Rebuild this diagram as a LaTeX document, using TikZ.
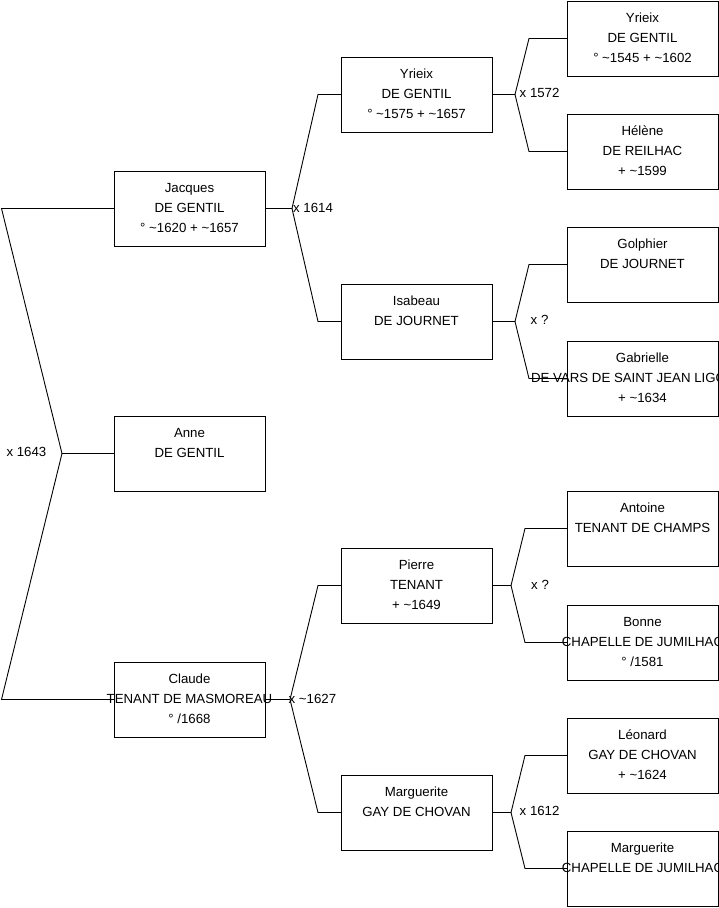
\documentclass[tikz,border=0pt]{standalone}
\usepackage{fontspec}
\setmainfont{Liberation Sans}
\tikzset{
  famboxstyle/.style={draw=black, line width=0.9pt, fill=white, minimum width=151pt, minimum height=75pt, inner sep=0pt, outer sep=0pt},
  famtext/.style={anchor=north, inner sep=0pt, align=center, font=\fontsize{13.25}{20}\selectfont},
  link/.style={draw=black, line width=0.9pt},
  marr/.style={anchor=west, inner sep=0pt, font=\fontsize{13.25}{16}\selectfont},
}
\newcommand\famnode[4]{%
  \node[famboxstyle] (#1) at (#2,#3) {};
  \node[famtext] (#1-t) at (#1.north) {\rule{0pt}{21pt}#4};}
\begin{document}
\begin{tikzpicture}[x=1pt,y=-1pt]
\useasboundingbox (0,0) rectangle (719,908);
\clip (0,0) rectangle (719,908);
\fill[white] (0,0) rectangle (719,908);
% fork and bend coordinates
\coordinate (f0) at (62,453.5);
\coordinate (b0a) at (1.5,208.5);
\coordinate (b0b) at (1.5,699.5);
\coordinate (fJ) at (292,208.5);
\coordinate (bJa) at (318,94.5);
\coordinate (bJb) at (318,321.5);
\coordinate (fC) at (290,699.5);
\coordinate (bCa) at (318,585.5);
\coordinate (bCb) at (318,812.5);
\coordinate (fY) at (515,94.5);
\coordinate (bYa) at (529,38.5);
\coordinate (bYb) at (529,151.5);
\coordinate (fI) at (515,321.5);
\coordinate (bIa) at (529,264.5);
\coordinate (bIb) at (529,378.5);
\coordinate (fP) at (511,585.5);
\coordinate (bPa) at (525,528.5);
\coordinate (bPb) at (525,642.5);
\coordinate (fM) at (511,812.5);
\coordinate (bMa) at (525,755.5);
\coordinate (bMb) at (525,868.5);
% boxes
\famnode{jacques}{189.5}{208.5}{Jacques\\DE GENTIL\\° \textasciitilde1620 + \textasciitilde1657}
\famnode{anne}{189.5}{453.5}{Anne\\DE GENTIL}
\famnode{claude}{189.5}{699.5}{Claude\\TENANT DE MASMOREAU\\° /1668}
\famnode{yrieixB}{416.5}{94.5}{Yrieix\\DE GENTIL\\° \textasciitilde1575 + \textasciitilde1657}
\famnode{isabeau}{416.5}{321.5}{Isabeau\\DE JOURNET}
\famnode{pierre}{416.5}{585.5}{Pierre\\TENANT\\+ \textasciitilde1649}
\famnode{margueriteG}{416.5}{812.5}{Marguerite\\GAY DE CHOVAN}
\famnode{yrieixA}{642.5}{38.5}{Yrieix\\DE GENTIL\\° \textasciitilde1545 + \textasciitilde1602}
\famnode{helene}{642.5}{151.5}{Hélène\\DE REILHAC\\+ \textasciitilde1599}
\famnode{golphier}{642.5}{264.5}{Golphier\\DE JOURNET}
\famnode{gabrielle}{642.5}{378.5}{Gabrielle\\DE VARS DE SAINT JEAN LIGOURE\\+ \textasciitilde1634}
\famnode{antoine}{642.5}{528.5}{Antoine\\TENANT DE CHAMPS}
\famnode{bonne}{642.5}{642.5}{Bonne\\CHAPELLE DE JUMILHAC\\° /1581}
\famnode{leonard}{642.5}{755.5}{Léonard\\GAY DE CHOVAN\\+ \textasciitilde1624}
\famnode{margueriteC}{642.5}{868.5}{Marguerite\\CHAPELLE DE JUMILHAC}
% connectors
\draw[link] (anne.west) -- (f0) -- (b0a) -- (jacques.west);
\draw[link] (f0) -- (b0b) -- (claude.west);
\draw[link] (jacques.east) -- (fJ) -- (bJa) -- (yrieixB.west);
\draw[link] (fJ) -- (bJb) -- (isabeau.west);
\draw[link] (claude.east) -- (fC) -- (bCa) -- (pierre.west);
\draw[link] (fC) -- (bCb) -- (margueriteG.west);
\draw[link] (yrieixB.east) -- (fY) -- (bYa) -- (yrieixA.west);
\draw[link] (fY) -- (bYb) -- (helene.west);
\draw[link] (isabeau.east) -- (fI) -- (bIa) -- (golphier.west);
\draw[link] (fI) -- (bIb) -- (gabrielle.west);
\draw[link] (pierre.east) -- (fP) -- (bPa) -- (antoine.west);
\draw[link] (fP) -- (bPb) -- (bonne.west);
\draw[link] (margueriteG.east) -- (fM) -- (bMa) -- (leonard.west);
\draw[link] (fM) -- (bMb) -- (margueriteC.west);
% marriage labels
\node[marr, anchor=east] (m0) at (46.5,451.5) {x 1643};
\node[marr] (mJ) at (293,207.5) {x 1614};
\node[marr] (mC) at (288.5,699) {x \textasciitilde1627};
\node[marr] (mY) at (519.5,93) {x 1572};
\node[marr] (mI) at (530.5,320) {x ?};
\node[marr] (mP) at (531,584.5) {x ?};
\node[marr] (mM) at (519.5,811) {x 1612};
\end{tikzpicture}
\end{document}
